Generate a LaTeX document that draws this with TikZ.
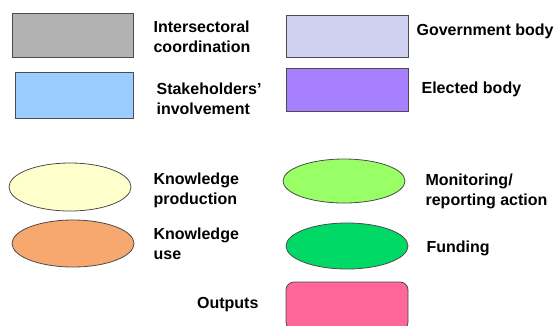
\documentclass[tikz,border=0pt]{standalone}
\usepackage{fontspec}
\setmainfont{Liberation Sans}
\usetikzlibrary{positioning,shapes.geometric}

\definecolor{intergrey}{HTML}{B2B2B2}
\definecolor{stakeblue}{HTML}{99CCFF}
\definecolor{govlav}{HTML}{D0D0F0}
\definecolor{electpurple}{HTML}{A680FF}
\definecolor{prodyellow}{HTML}{FFFFCC}
\definecolor{useorange}{HTML}{F7A86E}
\definecolor{monigreen}{HTML}{99FF66}
\definecolor{fundgreen}{HTML}{00D966}
\definecolor{outpink}{HTML}{FF6699}

\begin{document}
\begin{tikzpicture}[x=1pt,y=-1pt,
    swatch/.style={draw=black!70, line width=0.8pt, minimum width=121pt, minimum height=44pt, inner sep=0pt},
    oval/.style={swatch, ellipse},
    lbl/.style={font=\fontsize{16}{20}\selectfont\bfseries, align=left, inner sep=0pt}]
    \useasboundingbox (0,0) rectangle (556,325);
    % rectangles
    \node[swatch, fill=intergrey] (inter) at (72.5,35) {};
    \node[swatch, fill=stakeblue, minimum width=118pt, minimum height=46pt] (stake) at (74,95) {};
    \node[swatch, fill=govlav, minimum width=122pt, minimum height=42pt] (gov) at (347,36) {};
    \node[swatch, fill=electpurple, minimum width=122pt, minimum height=43pt] (elected) at (347,89.5) {};
    % ellipses
    \node[oval, fill=prodyellow, minimum width=122pt, minimum height=48pt] (prod) at (70,187) {};
    \node[oval, fill=useorange, minimum width=122pt, minimum height=47pt] (use) at (73,243.5) {};
    \node[oval, fill=monigreen, minimum width=122pt, minimum height=44pt] (moni) at (344,181) {};
    \node[oval, fill=fundgreen, minimum width=122pt, minimum height=46pt] (fund) at (347,246) {};
    \node[swatch, fill=outpink, rounded corners=8pt, minimum width=122pt, minimum height=48pt] (outputs) at (347,306) {};
    % labels
    \node[lbl, right=20pt of inter, yshift=-2pt] (inter_lbl) {Intersectoral\\coordination};
    \node[lbl, right=23pt of stake, yshift=-3.5pt] (stake_lbl) {Stakeholders'\\involvement};
    \node[lbl, right=8pt of gov, yshift=5pt] (gov_lbl) {Government body};
    \node[lbl, right=13pt of elected] (elected_lbl) {Elected body};
    \node[lbl, right=22pt of prod, yshift=-3pt] (prod_lbl) {Knowledge\\production};
    \node[lbl, right=19pt of use] (use_lbl) {Knowledge\\use};
    \node[lbl, right=20pt of moni, yshift=-10.5pt] (moni_lbl) {Monitoring/\\reporting action};
    \node[lbl, right=18pt of fund, yshift=-2pt] (fund_lbl) {Funding};
    \node[lbl, left=27pt of outputs, yshift=1pt] (outputs_lbl) {Outputs};
\end{tikzpicture}
\end{document}
